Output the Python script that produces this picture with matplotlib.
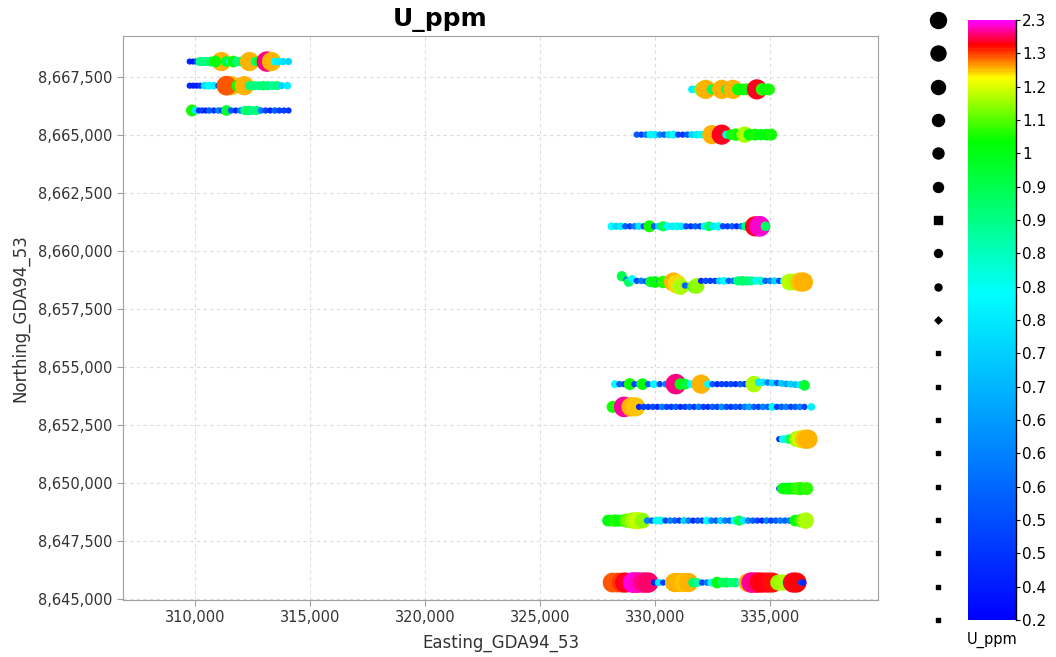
import numpy as np
import matplotlib
matplotlib.use("Agg")
import matplotlib.pyplot as plt
from matplotlib.colors import LinearSegmentedColormap, Normalize
from matplotlib.cm import ScalarMappable
from matplotlib.ticker import FuncFormatter

plt.rcParams['font.family'] = ['DejaVu Sans']

# --- survey lines: easting, northing, U_ppm (listed in sample order) ---
line1_x = [309750, 309900, 310050, 310200, 310350, 310500, 310650, 311130, 310870, 311350, 311500, 311650,
           311800, 312000, 312150, 312350, 312600, 312800, 312880, 313110, 313310, 313450, 313600, 313800,
           314050]
line1_v = [0.44, 0.42, 0.50, 0.88, 0.88, 0.87, 0.90, 1.22, 1.00, 0.95, 0.78, 1.00,
           0.88, 0.90, 0.88, 1.22, 0.88, 1.00, 1.02, 1.90, 1.22, 0.78, 0.76, 0.74,
           0.72]
line1_y = 8668150

line2_x = [309750, 309900, 310050, 310200, 310400, 310600, 310800, 311000, 311570, 311350, 311830, 312130,
           312350, 312550, 312750, 312950, 313150, 313350, 313550, 313750, 314000]
line2_v = [0.45, 0.43, 0.42, 0.47, 0.75, 0.78, 0.76, 0.50, 1.21, 1.27, 1.02, 1.22,
           0.88, 0.88, 0.87, 0.89, 0.88, 0.86, 0.88, 0.72, 0.76]
line2_y = 8667110

line3_x = [309750, 309850, 310000, 310150, 310300, 310450, 310600, 310800, 311000, 311150, 311350, 311550,
           311750, 311950, 312150, 312300, 312450, 312650, 312850, 313050, 313250, 313450, 313650, 313850,
           314050]
line3_v = [0.50, 1.02, 0.75, 0.45, 0.50, 0.42, 0.55, 0.48, 0.60, 0.50, 0.95, 0.55,
           0.45, 0.60, 0.88, 0.90, 0.87, 0.88, 0.60, 0.50, 0.45, 0.55, 0.48, 0.50,
           0.47]
line3_y = 8666040

line4_x = [331600, 331800, 332050, 332200, 332450, 332690, 332900, 333100, 333250, 333390, 333600, 333820,
           334000, 334200, 334430, 334650, 334800, 334950]
line4_v = [0.76, 0.80, 1.10, 1.22, 0.90, 1.03, 1.22, 0.92, 0.72, 1.22, 1.02, 1.00,
           1.02, 0.98, 1.60, 1.03, 1.00, 1.02]
line4_y = 8666950

line5_x = [329200, 329400, 329600, 329800, 330000, 330200, 330400, 330600, 330800, 331000, 331200, 331400,
           331600, 331800, 332000, 332200, 332470, 332900, 333100, 333300, 333500, 333650, 333900, 334100,
           334350, 334600, 334850, 335050]
line5_v = [0.55, 0.50, 0.60, 0.78, 0.76, 0.60, 0.55, 0.75, 0.78, 0.50, 0.48, 0.55,
           0.72, 0.76, 0.78, 0.80, 1.22, 1.60, 0.80, 0.95, 1.03, 1.00, 1.12, 1.00,
           1.02, 0.98, 1.00, 1.02]
line5_y = 8665000

line6_x = [328100, 328300, 328500, 328700, 328900, 329100, 329300, 329500, 329750, 329950, 330150, 330350,
           330550, 330750, 330950, 331150, 331350, 331550, 331750, 331950, 332150, 332350, 332550, 332750,
           332950, 333150, 333350, 333550, 333750, 333950, 334150, 334350, 334550, 334800]
line6_v = [0.78, 0.72, 0.76, 0.55, 0.50, 0.60, 0.75, 0.50, 1.02, 0.55, 0.72, 0.92,
           0.78, 0.76, 0.80, 0.75, 0.52, 0.48, 0.55, 0.50, 0.78, 0.90, 0.75, 0.80,
           0.50, 0.48, 0.55, 0.45, 0.60, 0.88, 0.78, 1.60, 2.10, 0.90]
line6_y = 8661050

line7_x = [328550, 328750, 328850, 329000, 329200, 329400, 329600, 329800, 330000, 330200, 330350, 330550,
           330800, 330950, 331100, 331300, 331500, 331700, 331800, 332000, 332200, 332400, 332600, 332800,
           333000, 333200, 333400, 333600, 333800, 334000, 334200, 334400, 334600, 334800, 335000, 335200,
           335400, 335600, 335850, 336050, 336300, 336450]
line7_yv = [8658900, 8658750, 8658650, 8658780, 8658700, 8658700, 8658680, 8658660, 8658650, 8658680,
            8658650, 8658650, 8658650, 8658560, 8658450, 8658500, 8658480, 8658450, 8658480, 8658700,
            8658700, 8658700, 8658700, 8658700, 8658700, 8658700, 8658700, 8658700, 8658700, 8658700,
            8658700, 8658700, 8658700, 8658700, 8658700, 8658700, 8658700, 8658700, 8658650, 8658650,
            8658650, 8658650]
line7_v = [0.92, 0.55, 0.90, 0.78, 0.52, 0.60, 0.50, 0.95, 1.00, 0.55, 1.03, 0.78,
           1.22, 1.20, 1.12, 0.55, 0.60, 1.05, 1.10, 0.45, 0.52, 0.48, 0.50, 0.72,
           0.78, 0.55, 0.60, 0.88, 0.90, 0.88, 0.87, 0.78, 0.82, 0.55, 0.60, 0.72,
           0.50, 0.78, 1.13, 1.12, 1.21, 1.22]

line8_x = [328250, 328450, 328650, 328900, 329100, 329300, 329450, 329700, 329950, 330200, 330450, 330750,
           330900, 331100, 331300, 331550, 331800, 332000, 332300, 332500, 332700, 332900, 333100, 333300,
           333500, 333700, 333900, 334100, 334300, 334500, 334700, 334900, 335100, 335300, 335500, 335700,
           335900, 336100, 336300, 336500]
line8_yv = [8654250] * 29 + [8654330, 8654330, 8654320, 8654300, 8654300, 8654280, 8654260,
                             8654250, 8654230, 8654220, 8654200]
line8_v = [0.78, 0.55, 0.50, 1.02, 0.50, 0.60, 1.00, 0.55, 0.78, 0.50, 0.60, 1.00,
           1.90, 1.00, 0.95, 0.78, 0.75, 1.22, 0.78, 0.55, 0.45, 0.50, 0.48, 0.52,
           0.45, 0.55, 0.50, 0.78, 1.12, 0.76, 0.75, 0.60, 0.72, 0.55, 0.70, 0.65,
           0.72, 0.68, 0.75, 0.95]

line9_x = [328150, 328450, 328650, 328950, 329150, 329300, 329500, 329700, 329900, 330100, 330300, 330500,
           330700, 330900, 331100, 331300, 331500, 331700, 331900, 332100, 332300, 332500, 332700, 332900,
           333100, 333300, 333500, 333700, 333900, 334100, 334300, 334500, 334700, 334900, 335100, 335300,
           335500, 335700, 335900, 336100, 336300, 336500, 336800]
line9_v = [1.02, 1.05, 1.95, 1.22, 1.21, 0.45, 0.50, 0.48, 0.52, 0.45, 0.60, 0.50,
           0.48, 0.55, 0.45, 0.50, 0.55, 0.48, 0.60, 0.50, 0.45, 0.55, 0.50, 0.62,
           0.52, 0.48, 0.55, 0.50, 0.60, 0.65, 0.55, 0.50, 0.60, 0.55, 0.78, 0.50,
           0.55, 0.60, 0.50, 0.55, 0.60, 0.50, 0.76]
line9_y = 8653270

line10_x = [335400, 335550, 335700, 335850, 336000, 336150, 336300, 336500, 336650]
line10_v = [0.45, 0.78, 0.80, 0.90, 0.92, 1.10, 1.14, 1.21, 1.22]
line10_y = 8651880

line11_x = [335400, 335550, 335700, 335850, 336000, 336150, 336300, 336450, 336600]
line11_v = [0.45, 0.98, 1.00, 1.02, 1.00, 1.03, 1.05, 1.02, 1.04]
line11_y = 8649750

line12_x = [327950, 328100, 328250, 328400, 328550, 328700, 328850, 329050, 329250, 329450, 329650, 329850,
            330050, 330250, 330450, 330650, 330850, 331050, 331250, 331450, 331650, 331850, 332050, 332250,
            332450, 332650, 332850, 333050, 333250, 333450, 333650, 333850, 334050, 334250, 334450, 334650,
            334850, 335050, 335250, 335450, 335650, 335850, 336100, 336350, 336550]
line12_v = [1.00, 0.98, 1.03, 1.02, 1.00, 1.05, 1.08, 1.12, 1.14, 1.10, 0.60, 0.55,
            0.78, 0.80, 0.50, 0.60, 0.55, 0.48, 0.72, 0.60, 0.45, 0.55, 0.50, 0.78,
            0.60, 0.55, 0.72, 0.60, 0.55, 0.78, 0.92, 0.75, 0.60, 0.55, 0.50, 0.45,
            0.60, 0.50, 0.55, 0.60, 0.55, 0.60, 1.00, 1.05, 1.12]
line12_y = 8648370

line13_x = [328000, 328150, 328350, 328550, 328700, 328850, 329050, 329250, 329500, 329700, 329950, 330150,
            330350, 330600, 330850, 331050, 331250, 331450, 331650, 331850, 332050, 332250, 332450, 332700,
            332900, 333100, 333300, 333500, 333700, 333900, 334050, 334200, 334400, 334550, 334700, 334900,
            335100, 335350, 335550, 335750, 336000, 336150, 336350, 336450]
line13_v = [1.00, 1.27, 1.27, 1.30, 1.60, 0.80, 2.20, 2.10, 1.90, 1.85, 0.45, 0.75,
            0.50, 0.55, 1.22, 1.22, 1.21, 1.22, 0.90, 0.85, 0.50, 0.60, 0.78, 1.00,
            0.90, 0.92, 0.88, 0.90, 0.78, 0.50, 1.22, 2.00, 1.90, 1.60, 1.55, 1.60,
            1.50, 1.10, 1.12, 0.90, 1.60, 1.55, 0.50, 0.45]
line13_y = 8645700

# colour scale classes (quantile breaks) and their labels
class_breaks = [0.2, 0.42, 0.47, 0.52, 0.56, 0.60, 0.63, 0.67, 0.71, 0.75,
                0.79, 0.83, 0.87, 0.92, 0.98, 1.06, 1.15, 1.28, 2.3]
class_labels = ['0.2', '0.4', '0.5', '0.5', '0.6', '0.6', '0.6', '0.7', '0.7', '0.8',
                '0.8', '0.8', '0.9', '0.9', '1', '1.1', '1.2', '1.3', '2.3']

# gather everything
xs, ys, vs = [], [], []
for lx, ly, lv in [(line1_x, line1_y, line1_v), (line2_x, line2_y, line2_v), (line3_x, line3_y, line3_v),
                   (line4_x, line4_y, line4_v), (line5_x, line5_y, line5_v), (line6_x, line6_y, line6_v),
                   (line7_x, line7_yv, line7_v), (line8_x, line8_yv, line8_v), (line9_x, line9_y, line9_v),
                   (line10_x, line10_y, line10_v), (line11_x, line11_y, line11_v),
                   (line12_x, line12_y, line12_v), (line13_x, line13_y, line13_v)]:
    xs += list(lx)
    ys += list(ly) if isinstance(ly, list) else [ly] * len(lx)
    vs += list(lv)
xs, ys, vs = np.array(xs), np.array(ys), np.array(vs)

cmap = LinearSegmentedColormap.from_list('uscale', [
    (0.0, '#0000ff'), (0.545, '#00ffff'), (0.80, '#00ff00'),
    (0.905, '#ffff00'), (0.96, '#ff0000'), (1.0, '#ff00ff')])

pos = np.interp(vs, class_breaks, np.arange(len(class_breaks)))
diam_px = np.interp(pos, [0, 8, 12, 14.5, 16.3, 18], [6, 7, 9, 12, 19, 21])
sizes = (diam_px * 0.72) ** 2

fig = plt.figure(figsize=(10.56, 6.57), dpi=100)
ax = fig.add_axes([0.1165, 0.0868, 0.715, 0.8584])
ax.scatter(xs, ys, s=sizes, c=pos, cmap=cmap, vmin=0, vmax=18, edgecolors='none', zorder=3)

ax.set_xlim(306850, 339700)
ax.set_ylim(8644950, 8669250)
ax.set_xticks(np.arange(310000, 336000, 5000))
ax.set_yticks(np.arange(8645000, 8668000, 2500))
fmt = FuncFormatter(lambda v, p: f'{v:,.0f}')
ax.xaxis.set_major_formatter(fmt)
ax.yaxis.set_major_formatter(fmt)
ax.grid(True, color='#dcdcdc', linestyle=(0, (3, 3)), linewidth=0.8, zorder=0)
for sp in ax.spines.values():
    sp.set_color('#a0a0a0')
ax.tick_params(colors='#a0a0a0', labelcolor='#333333', labelsize=10.5, length=4)
ax.set_xlabel('Easting_GDA94_53', fontsize=12, color='#333333', labelpad=6)
ax.set_ylabel('Northing_GDA94_53', fontsize=12, color='#333333', labelpad=6)
fig.text(440 / 1056, 1 - 20 / 657, 'U_ppm', fontsize=18, fontweight='bold', ha='center', va='center')

# colour bar
cax = fig.add_axes([968 / 1056, 0.0563, 48 / 1056, 0.9132])
sm = ScalarMappable(norm=Normalize(0, 18), cmap=cmap)
cb = fig.colorbar(sm, cax=cax, ticks=np.arange(19))
cb.set_ticklabels(class_labels)
cb.outline.set_visible(False)
cax.plot([1, 1], [0, 1], transform=cax.transAxes, color='black', lw=1, clip_on=False)
cax.tick_params(labelsize=11, length=3, color='black', width=0.8, pad=1.5)
cax.text(0.5, -0.02, 'U_ppm', transform=cax.transAxes, ha='center', va='top', fontsize=10.5)

# size legend column
legend_marker = ['s'] * 9 + ['D', 'o', 'o', 's', 'o', 'o', 'o', 'o', 'o', 'o']
legend_diam = [4.5] * 9 + [5, 7, 8, 8, 10, 11, 12, 14, 15, 16]
lax = fig.add_axes([920 / 1056, 0.0563, 36 / 1056, 0.9132])
lax.set_xlim(0, 1)
lax.set_ylim(0, 18)
for i in range(19):
    lax.scatter([0.5], [i], marker=legend_marker[i], s=(legend_diam[i] * 0.72) ** 2,
                color='black', clip_on=False)
lax.axis('off')

fig.savefig('out.png', dpi=100)
